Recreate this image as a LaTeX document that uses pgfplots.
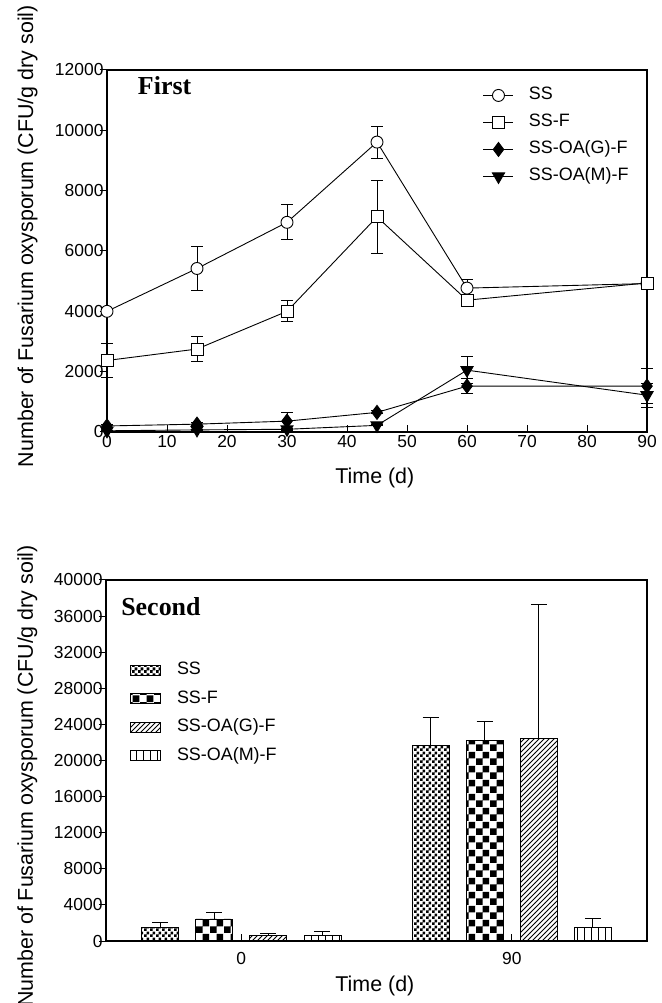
\documentclass[border=0pt]{standalone}
\usepackage{fontspec}
\setmainfont{Liberation Sans}
\newfontfamily\serifb{Liberation Serif}
\usepackage{pgfplots}
\pgfplotsset{compat=1.18}
\usetikzlibrary{patterns}

\pgfdeclarepatternformonly{finecheck}{\pgfqpoint{0bp}{0bp}}{\pgfqpoint{6bp}{6bp}}{\pgfqpoint{6bp}{6bp}}{%
 \pgfpathrectangle{\pgfqpoint{0bp}{0bp}}{\pgfqpoint{3.1bp}{3.1bp}}%
 \pgfpathrectangle{\pgfqpoint{3bp}{3bp}}{\pgfqpoint{3.1bp}{3.1bp}}%
 \pgfusepath{fill}}
\pgfdeclarepatternformonly{coarsecheck}{\pgfqpoint{0bp}{0bp}}{\pgfqpoint{14bp}{14bp}}{\pgfqpoint{14bp}{14bp}}{%
 \pgfpathrectangle{\pgfqpoint{0bp}{0bp}}{\pgfqpoint{7bp}{7bp}}%
 \pgfpathrectangle{\pgfqpoint{7bp}{7bp}}{\pgfqpoint{7bp}{7bp}}%
 \pgfusepath{fill}}
\pgfdeclarepatternformonly{diaglines}{\pgfqpoint{-1bp}{-1bp}}{\pgfqpoint{6bp}{6bp}}{\pgfqpoint{5bp}{5bp}}{%
 \pgfsetlinewidth{0.8bp}%
 \pgfpathmoveto{\pgfqpoint{0bp}{0bp}}\pgfpathlineto{\pgfqpoint{5.1bp}{5.1bp}}%
 \pgfusepath{stroke}}
\pgfdeclarepatternformonly{vertlines}{\pgfqpoint{-1bp}{-1bp}}{\pgfqpoint{8bp}{8bp}}{\pgfqpoint{7bp}{7bp}}{%
 \pgfsetlinewidth{0.9bp}%
 \pgfpathmoveto{\pgfqpoint{3.5bp}{-0.5bp}}\pgfpathlineto{\pgfqpoint{3.5bp}{7.5bp}}%
 \pgfusepath{stroke}}

\pgfplotsset{
 myaxis/.style={
  scale only axis,
  axis line style={line width=1.2bp},
  tick style={line width=1bp, black},
  major tick length=7bp,
  ytick style={xshift=-7bp},
  xtick pos=left, ytick pos=left,
  tick label style={font=\fontsize{17.5}{20}\selectfont},
  label style={font=\fontsize{21.5}{25}\selectfont},
  /pgf/number format/assume math mode=true,
  /pgf/number format/1000 sep={},
  scaled y ticks=false, scaled x ticks=false,
 },
 lineser/.style={black, line width=0.9bp, mark options={solid, line width=1.1bp},
  error bars/y dir=both, error bars/y explicit,
  error bars/error mark options={rotate=90, mark size=6bp, line width=1bp},
  error bars/error bar style={line width=1bp}},
 barser/.style={ybar, bar width=37bp, bar shift=0pt, draw=black, line width=0.8bp,
  legend image code/.code={\draw[##1] (0bp,-5bp) rectangle (30bp,5bp);},
  error bars/y dir=plus, error bars/y explicit,
  error bars/error mark options={rotate=90, mark size=8bp, line width=1bp},
  error bars/error bar style={line width=1bp}},
}

\begin{document}
\begin{tikzpicture}
\path[use as bounding box] (0bp,0bp) rectangle (662bp,1003bp);

% ---------------- First ----------------
\begin{axis}[myaxis,
  at={(107bp,571bp)}, anchor=south west, width=540bp, height=362bp,
  xmin=0, xmax=90, ymin=0, ymax=12000,
  xtick={0,10,...,90}, ytick={0,2000,...,12000},
  clip=false,
  xlabel={Time (d)},
  ylabel={Number of Fusarium oxysporum (CFU/g dry soil)},
  xlabel style={at={(axis description cs:0.496,-0.141)}, anchor=base},
  ylabel style={at={(axis description cs:-0.137,0.541)}, anchor=base},
  legend style={draw=none, fill=none, inner sep=0bp,
    at={(axis description cs:0.696,0.962)}, anchor=north west,
    font=\fontsize{18}{21}\selectfont, row sep=4bp,
    nodes={inner sep=3bp, text height=13bp, text depth=4bp},
    /tikz/every odd column/.append style={column sep=12bp}},
  legend cell align=left,
  legend image code/.code={\draw[mark repeat=2, mark phase=2, #1] plot coordinates {(0bp,0bp) (15bp,0bp) (30bp,0bp)};},
]
\addplot[lineser, mark=*, mark size=6bp, mark options={fill=white}] table[y error=e] {
x y e
0 4000 60
15 5420 720
30 6950 580
45 9610 530
60 4770 280
90 4920 80
};
\addlegendentry{SS}
\addplot[lineser, mark=square*, mark size=6bp, mark options={fill=white}] table[y error=e] {
x y e
0 2370 580
15 2750 420
30 4000 350
45 7130 1220
60 4370 200
90 4940 80
};
\addlegendentry{SS-F}
\addplot[lineser, mark=diamond*, mark size=7bp, mark options={fill=black}] table[y error=e] {
x y e
0 200 50
15 260 50
30 360 300
45 650 50
60 1520 250
90 1520 580
};
\addlegendentry{SS-OA(G)-F}
\addplot[lineser, mark=triangle*, mark size=7bp, mark options={fill=black, rotate=180}] table[y error=e] {
x y e
0 40 20
15 70 20
30 90 20
45 220 20
60 2050 450
90 1220 400
};
\addlegendentry{SS-OA(M)-F}
\node[anchor=base west, inner sep=0pt, font=\serifb\bfseries\fontsize{26}{30}\selectfont] at (axis description cs:0.057,0.931) {First};
\end{axis}

% ---------------- Second ----------------
% categories: 0 d at x=0, 90 d at x=1; the four treatments sit at -0.3, -0.1, +0.1, +0.3 around each
\begin{axis}[myaxis,
  at={(106bp,62bp)}, anchor=south west, width=541bp, height=361bp,
  xmin=-0.5, xmax=1.5, ymin=0, ymax=40000,
  xtick={0,1}, xticklabels={0,90},
  ytick={0,4000,...,40000},
  xticklabel style={yshift=-8bp},
  xlabel={Time (d)},
  ylabel={Number of Fusarium oxysporum (CFU/g dry soil)},
  xlabel style={at={(axis description cs:0.497,-0.141)}, anchor=base},
  ylabel style={at={(axis description cs:-0.135,0.457)}, anchor=base},
  legend style={draw=none, fill=none, inner sep=0bp,
    at={(axis description cs:0.0444,0.7825)}, anchor=north west,
    font=\fontsize{18}{21}\selectfont, row sep=5.5bp,
    nodes={inner sep=3bp, text height=13bp, text depth=4bp},
    /tikz/every odd column/.append style={column sep=13bp}},
  legend cell align=left,
]
\addplot[barser, pattern=finecheck] table[y error=e] {
x y e
-0.3 1470 560
0.7 21640 3160
};
\addlegendentry{SS}
\addplot[barser, pattern=coarsecheck] table[y error=e] {
x y e
-0.1 2440 700
0.9 22270 2000
};
\addlegendentry{SS-F}
\addplot[barser, pattern=diaglines] table[y error=e] {
x y e
0.1 630 220
1.1 22460 14840
};
\addlegendentry{SS-OA(G)-F}
\addplot[barser, pattern=vertlines] table[y error=e] {
x y e
0.3 630 400
1.3 1480 960
};
\addlegendentry{SS-OA(M)-F}
\node[anchor=base west, inner sep=0pt, font=\serifb\bfseries\fontsize{26}{30}\selectfont] at (axis description cs:0.028,0.903) {Second};
\end{axis}
\end{tikzpicture}
\end{document}
